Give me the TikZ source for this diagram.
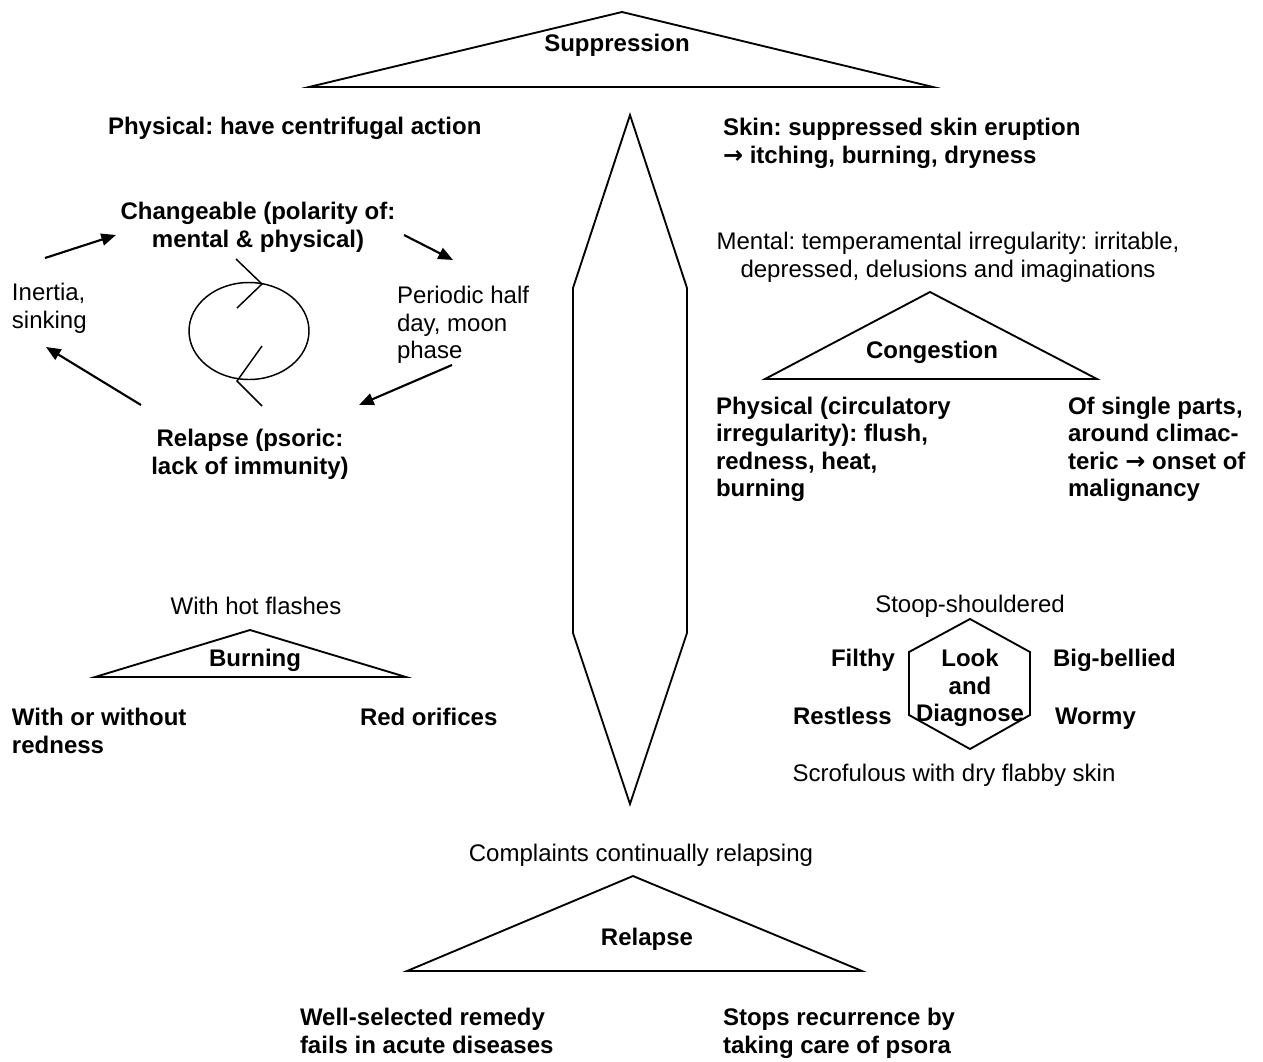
\documentclass[tikz,border=0pt]{standalone}
\usepackage{fontspec}
\setmainfont{Liberation Sans}
\newfontfamily\arrowfont{DejaVu Sans}
\usetikzlibrary{arrows.meta,shapes.geometric}
\frenchspacing
\newcommand{\st}{\rule{0pt}{15pt}}
\newcommand{\myarr}{{\arrowfont\bfseries →}}
\tikzset{
  txt/.style={inner sep=0pt, outer sep=0pt, font=\fontsize{18}{20.7}\selectfont},
  btxt/.style={txt, font=\fontsize{18}{20.7}\selectfont\bfseries},
  shape line/.style={draw=black, line width=1.4pt, line join=miter},
  cyc arrow/.style={draw=black, line width=1.6pt, -{Triangle[length=11pt,width=9pt]}},
  tick line/.style={draw=black, line width=1.1pt}
}
\begin{document}
\begin{tikzpicture}[x=0.75pt,y=-0.75pt]
\fill[white] (0,0) rectangle (1263,1061);
\useasboundingbox (0,0) rectangle (1263,1061);

% top triangle
\draw[shape line] (309,87) -- (622,12) -- (933,87) -- cycle;
\node[btxt, anchor=north] (supp) at (617,31) {\st Suppression};

% long central shape
\draw[shape line] (630,115) -- (687,288) -- (687,633) -- (630,804) -- (573,633) -- (573,288) -- cycle;

% upper left / right texts
\node[btxt, anchor=north west] (phys) at (108,114.5) {\st Physical: have centrifugal action};
\node[btxt, anchor=north west, align=left] (skin) at (723,115.5) {\st Skin: suppressed skin eruption\\\myarr{} itching, burning, dryness};

% mental + congestion
\node[txt, anchor=north, align=center] (mental) at (948,229.5) {\st Mental: temperamental irregularity: irritable,\\depressed, delusions and imaginations};
\draw[shape line] (765,379) -- (930,292) -- (1097,379) -- cycle;
\node[btxt, anchor=north] (cong) at (932,338.5) {\st Congestion};
\node[btxt, anchor=north west, align=left] (physc) at (716,394) {\st Physical (circulatory\\irregularity): flush,\\redness, heat,\\burning};
\node[btxt, anchor=north west, align=left] (single) at (1068,394) {\st Of single parts,\\around climac-\\teric \myarr{} onset of\\malignancy};

% cycle
\node[btxt, anchor=north, align=center] (chg) at (258,199.5) {\st Changeable (polarity of:\\mental \& physical)};
\node[txt, anchor=north west, align=left] (inert) at (12,280.5) {\st Inertia,\\sinking};
\node[txt, anchor=north west, align=left] (period) at (397,283.5) {\st Periodic half\\day, moon\\phase};
\node[btxt, anchor=north, align=center] (rel) at (250,426.5) {\st Relapse (psoric:\\lack of immunity)};
\coordinate (a1s) at (45,258);  \coordinate (a1e) at (116,235);
\coordinate (a2s) at (404,235); \coordinate (a2e) at (453,260);
\coordinate (a3s) at (452,365); \coordinate (a3e) at (359,405);
\coordinate (a4s) at (141,405); \coordinate (a4e) at (46,347);
\draw[cyc arrow] (a1s) -- (a1e);
\draw[cyc arrow] (a2s) -- (a2e);
\draw[cyc arrow] (a3s) -- (a3e);
\draw[cyc arrow] (a4s) -- (a4e);
\node[draw=black, line width=1.1pt, ellipse, inner sep=0pt, minimum width=90pt, minimum height=72.75pt] (loop) at (249,331) {};
\draw[tick line] (236,259) -- (262,284) -- (237,308);
\draw[tick line] (262,346) -- (237,381) -- (262,406);

% burning
\node[txt, anchor=north] (hot) at (256,594.5) {\st With hot flashes};
\draw[shape line] (95,677) -- (250,630) -- (406,677) -- cycle;
\node[btxt, anchor=north] (burn) at (255,646.5) {\st Burning};
\node[btxt, anchor=north west, align=left] (withor) at (12,705.5) {\st With or without\\redness};
\node[btxt, anchor=north west] (redor) at (360,705.5) {\st Red orifices};

% hexagon
\draw[shape line] (970,619) -- (1030,652) -- (1030,715) -- (970,749) -- (909,715) -- (909,652) -- cycle;
\node[txt, anchor=north] (stoop) at (970,592.5) {\st Stoop-shouldered};
\node[btxt, anchor=north, align=center] (look) at (970,646.5) {\st Look\\and\\Diagnose};
\node[btxt, anchor=north east] (filthy) at (895,646.5) {\st Filthy};
\node[btxt, anchor=north west] (bigb) at (1053,646.5) {\st Big-bellied};
\node[btxt, anchor=north west] (restl) at (793,704.5) {\st Restless};
\node[btxt, anchor=north west] (wormy) at (1055,704.5) {\st Wormy};
\node[txt, anchor=north] (scrof) at (954,761.5) {\st Scrofulous with dry flabby skin};

% bottom
\node[txt, anchor=north] (compl) at (641,841.5) {\st Complaints continually relapsing};
\draw[shape line] (407,971) -- (633,876) -- (862,971) -- cycle;
\node[btxt, anchor=north] (relb) at (647,925.5) {\st Relapse};
\node[btxt, anchor=north west, align=left] (well) at (300,1005.5) {\st Well-selected remedy\\fails in acute diseases};
\node[btxt, anchor=north west, align=left] (stops) at (723,1005.5) {\st Stops recurrence by\\taking care of psora};
\end{tikzpicture}
\end{document}
